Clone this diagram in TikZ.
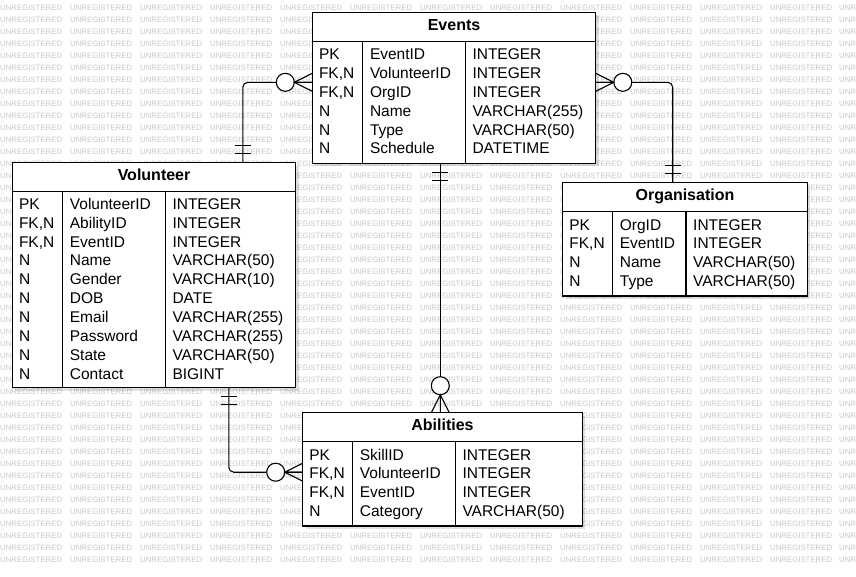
\documentclass[tikz,border=0pt]{standalone}
\usepackage{fontspec}
\setmainfont{Liberation Sans}
\usetikzlibrary{calc, shadows}

\tikzset{
  entbox/.style={draw, line width=1.2pt, fill=white, anchor=north west, inner sep=0pt, outer sep=0pt,
    drop shadow={shadow xshift=3pt, shadow yshift=-3pt, fill=black, opacity=0.12}},
  enttitle/.style={anchor=base, inner sep=0pt, font=\fontsize{16}{19}\selectfont\bfseries},
  cell/.style={anchor=base west, inner sep=0pt, font=\fontsize{15.5}{18}\selectfont},
  sep/.style={line width=1.2pt},
  link/.style={line width=1.1pt, rounded corners=5pt},
  wmark/.style={anchor=west, inner sep=0pt, text=black!22, font=\fontsize{7.8}{8}\selectfont},
  zeromany/.pic={
    \draw[line width=1.1pt, fill=white] (-27,0) circle (9pt);
    \draw[line width=1.1pt] (0,-9) -- (-18,0) -- (0,9) (-18,0) -- (0,0);
  },
  oneone/.pic={
    \draw[line width=1.1pt] (-9,-8) -- (-9,8) (-17,-8) -- (-17,8);
  }
}

\begin{document}
\begin{tikzpicture}[x=1pt, y=-1pt]
  \useasboundingbox (0,0) rectangle (856,576);
  % Watermark
  \foreach \r in {0,...,46}{
    \foreach \c in {0,...,11}
      \node[wmark] (wm-\r-\c) at (70*\c, 8.3+12*\r) {UNREGISTERED};
    \node[wmark] (wm-\r-12) at (839, 8.3+12*\r) {UNR};
  }

  % Events
  \node[entbox, minimum width=283.5, minimum height=151] (ev) at (312.3,12.3) {};
  \node[enttitle] (ev-title) at ($(ev.north)+(0,18)$) {Events};
  \draw[sep] ($(ev.north west)+(0,29)$) -- ($(ev.north east)+(0,29)$);
  \draw[sep] ($(ev.north west)+(50.5,29)$) -- ($(ev.south west)+(50.5,0)$);
  \draw[sep] ($(ev.north west)+(153,29)$) -- ($(ev.south west)+(153,0)$);
  \foreach \k/\n/\t [count=\i] in {PK/EventID/INTEGER, {FK,N}/VolunteerID/INTEGER,
      {FK,N}/OrgID/INTEGER, N/Name/VARCHAR(255), N/Type/VARCHAR(50), N/Schedule/DATETIME}{
    \node[cell] (ev-k\i) at ($(ev.north west)+(6.5,{47.5+18.8*(\i-1)})$) {\k};
    \node[cell] (ev-n\i) at ($(ev.north west)+(57.5,{47.5+18.8*(\i-1)})$) {\n};
    \node[cell] (ev-t\i) at ($(ev.north west)+(160,{47.5+18.8*(\i-1)})$) {\t};
  }

  % Volunteer
  \node[entbox, minimum width=283.5, minimum height=225] (vol) at (12.3,162.7) {};
  \node[enttitle] (vol-title) at ($(vol.north)+(0,18)$) {Volunteer};
  \draw[sep] ($(vol.north west)+(0,29)$) -- ($(vol.north east)+(0,29)$);
  \draw[sep] ($(vol.north west)+(50.4,29)$) -- ($(vol.south west)+(50.4,0)$);
  \draw[sep] ($(vol.north west)+(153,29)$) -- ($(vol.south west)+(153,0)$);
  \foreach \k/\n/\t [count=\i] in {PK/VolunteerID/INTEGER, {FK,N}/AbilityID/INTEGER,
      {FK,N}/EventID/INTEGER, N/Name/VARCHAR(50), N/Gender/VARCHAR(10), N/DOB/DATE,
      N/Email/VARCHAR(255), N/Password/VARCHAR(255), N/State/VARCHAR(50), N/Contact/BIGINT}{
    \node[cell] (vol-k\i) at ($(vol.north west)+(6.5,{46.5+18.9*(\i-1)})$) {\k};
    \node[cell] (vol-n\i) at ($(vol.north west)+(57.4,{46.5+18.9*(\i-1)})$) {\n};
    \node[cell] (vol-t\i) at ($(vol.north west)+(160,{46.5+18.9*(\i-1)})$) {\t};
  }

  % Organisation
  \node[entbox, minimum width=244.6, minimum height=113.5] (org) at (562.7,182.5) {};
  \node[enttitle] (org-title) at ($(org.north)+(0,18)$) {Organisation};
  \draw[sep] ($(org.north west)+(0,29)$) -- ($(org.north east)+(0,29)$);
  \draw[sep] ($(org.north west)+(50,29)$) -- ($(org.south west)+(50,0)$);
  \draw[sep] ($(org.north west)+(123.3,29)$) -- ($(org.south west)+(123.3,0)$);
  \foreach \k/\n/\t [count=\i] in {PK/OrgID/INTEGER, {FK,N}/EventID/INTEGER,
      N/Name/VARCHAR(50), N/Type/VARCHAR(50)}{
    \node[cell] (org-k\i) at ($(org.north west)+(6.5,{47.5+18.8*(\i-1)})$) {\k};
    \node[cell] (org-n\i) at ($(org.north west)+(57,{47.5+18.8*(\i-1)})$) {\n};
    \node[cell] (org-t\i) at ($(org.north west)+(130.3,{47.5+18.8*(\i-1)})$) {\t};
  }

  % Abilities
  \node[entbox, minimum width=279.6, minimum height=113.3] (ab) at (302.7,412.7) {};
  \node[enttitle] (ab-title) at ($(ab.north)+(0,18)$) {Abilities};
  \draw[sep] ($(ab.north west)+(0,28.5)$) -- ($(ab.north east)+(0,28.5)$);
  \draw[sep] ($(ab.north west)+(50,28.5)$) -- ($(ab.south west)+(50,0)$);
  \draw[sep] ($(ab.north west)+(152.6,28.5)$) -- ($(ab.south west)+(152.6,0)$);
  \foreach \k/\n/\t [count=\i] in {PK/SkillID/INTEGER, {FK,N}/VolunteerID/INTEGER,
      {FK,N}/EventID/INTEGER, N/Category/VARCHAR(50)}{
    \node[cell] (ab-k\i) at ($(ab.north west)+(6.5,{47.5+18.6*(\i-1)})$) {\k};
    \node[cell] (ab-n\i) at ($(ab.north west)+(57,{47.5+18.6*(\i-1)})$) {\n};
    \node[cell] (ab-t\i) at ($(ab.north west)+(159.6,{47.5+18.6*(\i-1)})$) {\t};
  }

  % Relationships
  \coordinate (ev-w) at ($(ev.north west)+(0,70)$);
  \coordinate (ev-e) at ($(ev.north east)+(0,70)$);
  \coordinate (ev-s) at ($(ev.south west)+(128,0)$);
  \coordinate (vol-n) at ($(vol.north west)+(230.5,0)$);
  \coordinate (vol-s) at ($(vol.south west)+(216.5,0)$);
  \coordinate (org-n) at ($(org.north west)+(110,0)$);
  \coordinate (ab-n) at (ev-s |- ab.north);
  \coordinate (ab-w) at ($(ab.north west)+(0,59.5)$);

  \draw[link] (vol-n) |- (ev-w);
  \draw[link] (ev-e) -| (org-n);
  \draw[link] (ev-s) -- (ab-n);
  \draw[link] (vol-s) |- (ab-w);

  \pic at (ev-w) {zeromany};
  \pic[rotate=180] at (ev-e) {zeromany};
  \pic[rotate=-90] at (ab-n) {zeromany};
  \pic at (ab-w) {zeromany};
  \pic[rotate=-90] at (vol-n) {oneone};
  \pic[rotate=-90] at (org-n) {oneone};
  \pic[rotate=90] at (ev-s) {oneone};
  \pic[rotate=90] at (vol-s) {oneone};
\end{tikzpicture}
\end{document}
